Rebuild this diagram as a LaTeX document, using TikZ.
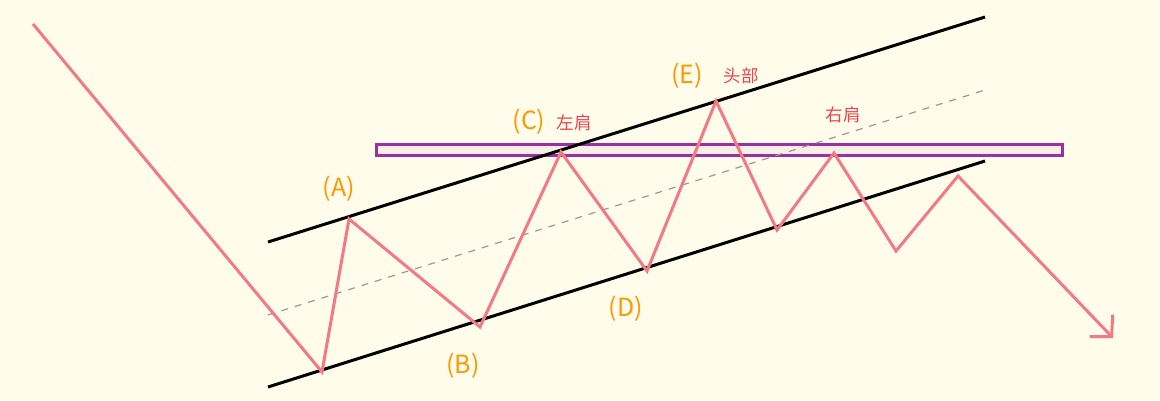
\documentclass[tikz,border=0pt]{standalone}
\usepackage{fontspec}
\setmainfont{Noto Sans CJK SC}
\usetikzlibrary{arrows.meta}
\definecolor{bg}{RGB}{255,252,235}
\definecolor{redl}{RGB}{242,122,132}
\definecolor{orangel}{RGB}{255,153,0}
\definecolor{redt}{RGB}{235,70,80}
\definecolor{purp}{RGB}{155,48,160}
\definecolor{purpfill}{RGB}{248,238,232}
\begin{document}
\begin{tikzpicture}[x=1pt,y=-1pt,
  chan/.style={line width=3pt,black},
  mid/.style={line width=1.2pt,gray!80,dash pattern=on 7pt off 7pt},
  price/.style={line width=3pt,redl,line join=miter},
  ptlabel/.style={text=orangel,font=\fontsize{25}{25}\selectfont,inner sep=0pt},
  cnlabel/.style={text=redt,font=\fontsize{17.5}{17.5}\selectfont,inner sep=0pt}]
\fill[bg] (0,0) rectangle (1160,400);
\useasboundingbox (0,0) rectangle (1160,400);
% neckline box
\draw[purp,line width=3pt,fill=purpfill] (376,144) rectangle (1062,155);
% channel
\coordinate (u1) at (268,242); \coordinate (u2) at (985,17);
\coordinate (l1) at (268,387); \coordinate (l2) at (985,161);
\coordinate (m1) at (268,315); \coordinate (m2) at (985,90);
\draw[mid] (m1) -- (m2);
\draw[chan] (u1) -- (u2);
\draw[chan] (l1) -- (l2);
% price path
\coordinate (p0) at (33,24);
\coordinate (p1) at (322,372);
\coordinate (A) at (349,219);
\coordinate (B) at (480,327);
\coordinate (C) at (561,152);
\coordinate (D) at (647,271);
\coordinate (E) at (716,101);
\coordinate (p7) at (777,230);
\coordinate (R) at (834,153);
\coordinate (p9) at (896,251);
\coordinate (p10) at (958,176);
\coordinate (p11) at (1113,338);
\draw[price,-{Straight Barb[length=15pt,width=32pt,line width=3pt]}] (p0) -- (p1) -- (A) -- (B) -- (C) -- (D) -- (E) -- (p7) -- (R) -- (p9) -- (p10) -- (p11);
% labels
\node[ptlabel] (lA) at (339,189) {(A)};
\node[ptlabel] (lB) at (463,366) {(B)};
\node[ptlabel] (lC) at (529,122) {(C)};
\node[ptlabel] (lD) at (626,309) {(D)};
\node[ptlabel] (lE) at (687,76) {(E)};
\node[cnlabel] (tC) at (574,123) {左肩};
\node[cnlabel] (tE) at (741,76) {头部};
\node[cnlabel] (tR) at (843,115) {右肩};
\end{tikzpicture}
\end{document}
